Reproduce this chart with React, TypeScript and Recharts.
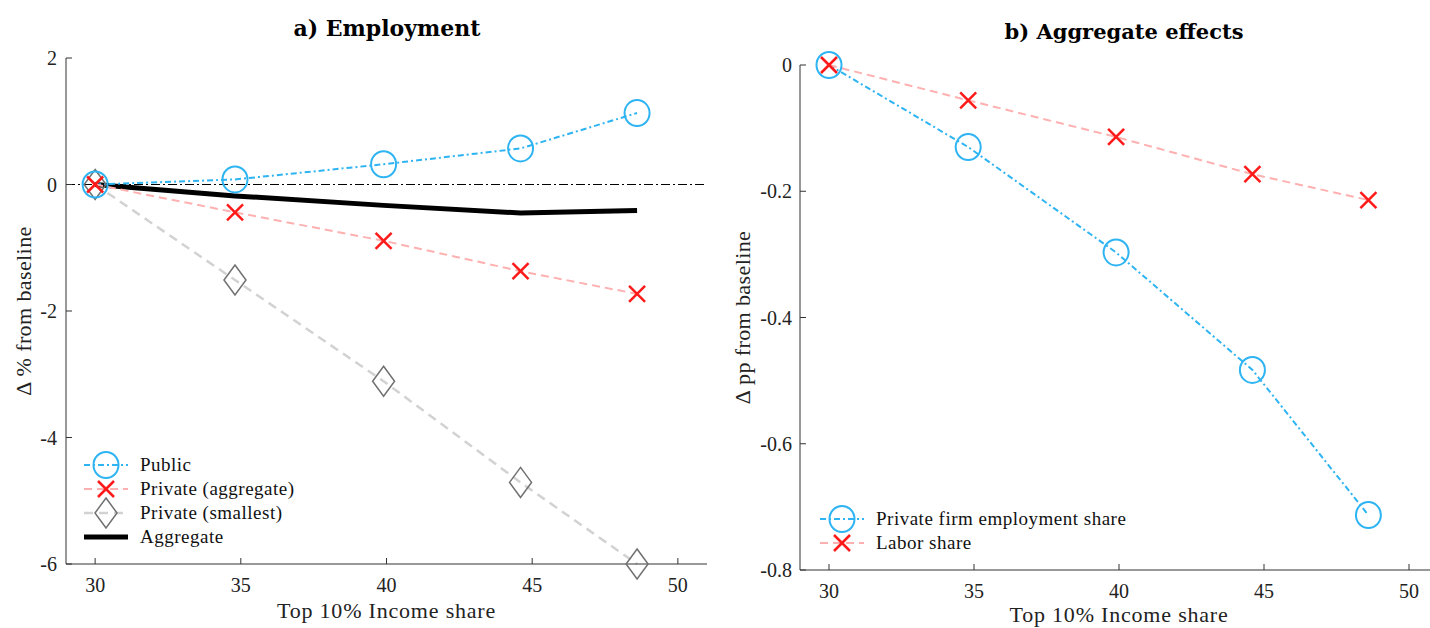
import React from 'react';
import { LineChart, Line, XAxis, YAxis, ReferenceLine, Legend, Label } from 'recharts';

// Top 10% income share (x), shared by both panels
const incomeShare = [30, 34.8, 39.9, 44.6, 48.6];

// Panel a) Employment, % change from baseline
const publicEmp = [0, 0.08, 0.32, 0.57, 1.13];
const privateAggEmp = [0, -0.44, -0.89, -1.37, -1.73];
const privateSmallEmp = [0, -1.51, -3.11, -4.71, -6.0];
const aggregateEmp = [0, -0.18, -0.33, -0.45, -0.41];

// Panel b) Aggregate effects, pp change from baseline
const privateFirmShare = [0, -0.13, -0.297, -0.483, -0.713];
const laborShare = [0, -0.056, -0.114, -0.173, -0.214];

const xTicks = [30, 35, 40, 45, 50];
const yTicksA = [-6, -4, -2, 0, 2];
const yMinorTicksA = [
  -5.8, -5.6, -5.4, -5.2, -5, -4.8, -4.6, -4.4, -4.2, -3.8, -3.6, -3.4, -3.2, -3, -2.8, -2.6, -2.4,
  -2.2, -1.8, -1.6, -1.4, -1.2, -1, -0.8, -0.6, -0.4, -0.2, 0.2, 0.4, 0.6, 0.8, 1, 1.2, 1.4, 1.6, 1.8,
];
const yTicksB = [-0.8, -0.6, -0.4, -0.2, 0];

const SERIF = '"Liberation Serif", "Times New Roman", serif';
const BLUE = '#2eb4f2';
const RED = '#ff1a1a';
const PINK = '#ffb0b0';
const GRAY = '#d2d2d2';
const AXIS = '#333';

const dataA = incomeShare.map((x, i) => ({
  x,
  pub: publicEmp[i],
  priv: privateAggEmp[i],
  small: privateSmallEmp[i],
  agg: aggregateEmp[i],
}));

const dataB = incomeShare.map((x, i) => ({
  x,
  firm: privateFirmShare[i],
  labor: laborShare[i],
}));

type Marker = 'circle' | 'cross' | 'diamond' | 'none';

const drawMarker = (kind: Marker, cx: number, cy: number, key?: string) => {
  if (kind === 'circle') {
    return <ellipse key={key} cx={cx} cy={cy} rx={12.5} ry={13} fill="none" stroke={BLUE} strokeWidth={2} />;
  }
  if (kind === 'cross') {
    const s = 8;
    return (
      <g key={key}>
        <line x1={cx - s} y1={cy - s} x2={cx + s} y2={cy + s} stroke={RED} strokeWidth={2.5} />
        <line x1={cx - s} y1={cy + s} x2={cx + s} y2={cy - s} stroke={RED} strokeWidth={2.5} />
      </g>
    );
  }
  if (kind === 'diamond') {
    return (
      <polygon
        key={key}
        points={`${cx},${cy - 15} ${cx + 11},${cy} ${cx},${cy + 15} ${cx - 11},${cy}`}
        fill="none"
        stroke="#707070"
        strokeWidth={1.5}
      />
    );
  }
  return <g key={key} />;
};

const dotOf = (kind: Marker) => (props: any) =>
  drawMarker(kind, props.cx, props.cy, `${kind}-${props.index}`);

interface LegendItem {
  label: string;
  color: string;
  dash?: string;
  width: number;
  marker: Marker;
}

const legendA: LegendItem[] = [
  { label: 'Public', color: BLUE, dash: '6 3 2 3', width: 2, marker: 'circle' },
  { label: 'Private (aggregate)', color: PINK, dash: '8 5', width: 2, marker: 'cross' },
  { label: 'Private (smallest)', color: GRAY, dash: '9 6', width: 2.5, marker: 'diamond' },
  { label: 'Aggregate', color: '#000', width: 5, marker: 'none' },
];

const legendB: LegendItem[] = [
  { label: 'Private firm employment share', color: BLUE, dash: '6 3 2 3', width: 2, marker: 'circle' },
  { label: 'Labor share', color: PINK, dash: '8 5', width: 2, marker: 'cross' },
];

const LegendBox = ({ items }: { items: LegendItem[] }) => (
  <div style={{ fontFamily: SERIF, fontSize: 19, color: '#111' }}>
    {items.map((it) => (
      <div key={it.label} style={{ display: 'flex', alignItems: 'center', height: 24 }}>
        <svg width={48} height={30} style={{ overflow: 'visible' }}>
          <line x1={2} y1={15} x2={46} y2={15} stroke={it.color} strokeWidth={it.width} strokeDasharray={it.dash} />
          {drawMarker(it.marker, 24, 15)}
        </svg>
        <span style={{ marginLeft: 10, whiteSpace: 'nowrap', letterSpacing: 0.5 }}>{it.label}</span>
      </div>
    ))}
  </div>
);

const tickStyle = { fontFamily: SERIF, fontSize: 20, fill: '#222' };
const axisLabelStyle = { fontFamily: SERIF, fontSize: 22, fill: '#222', letterSpacing: 0.8 };

const titleStyle: React.CSSProperties = {
  position: 'absolute',
  fontFamily: '"DejaVu Serif", serif',
  fontWeight: 'bold',
  fontSize: 22,
  color: '#000',
  whiteSpace: 'nowrap',
  transform: 'translateX(-50%)',
};

export default function App() {
  return (
    <div
      style={{
        position: 'absolute',
        left: 0,
        top: 0,
        width: 1430,
        height: 628,
        overflow: 'hidden',
        background: '#fff',
      }}
    >
      <div style={{ ...titleStyle, left: 387, top: 15 }}>a) Employment</div>
      <div style={{ ...titleStyle, left: 1124, top: 19, fontSize: 21 }}>b) Aggregate effects</div>

      <div style={{ position: 'absolute', left: 0, top: 0 }}>
        <LineChart
          width={720}
          height={628}
          data={dataA}
          margin={{ top: 58, right: 13, bottom: 4, left: 6 }}
          style={{ fontFamily: SERIF }}
        >
          <XAxis
            dataKey="x"
            type="number"
            domain={[29, 51]}
            ticks={xTicks}
            stroke={AXIS}
            tickSize={-6}
            tickMargin={20}
            tick={tickStyle}
            height={60}
          >
            <Label value="Top 10% Income share" position="insideBottom" offset={6} style={axisLabelStyle} />
          </XAxis>
          <YAxis
            yAxisId="minor"
            type="number"
            domain={[-6, 2]}
            ticks={yMinorTicksA}
            axisLine={false}
            tick={false}
            tickLine={{ stroke: '#999' }}
            tickSize={-3}
            width={0}
          />
          <YAxis
            type="number"
            domain={[-6, 2]}
            ticks={yTicksA}
            stroke={AXIS}
            tickSize={-6}
            tickMargin={15}
            tick={tickStyle}
            width={60}
          >
            <Label
              value="Δ % from baseline"
              angle={-90}
              position="insideLeft"
              offset={17}
              style={{ ...axisLabelStyle, letterSpacing: 0.4, textAnchor: 'middle' }}
            />
          </YAxis>
          <ReferenceLine y={0} stroke="#000" strokeWidth={1} strokeDasharray="9 3 2 3" />
          <Line
            dataKey="small"
            stroke={GRAY}
            strokeWidth={2.5}
            strokeDasharray="9 6"
            dot={dotOf('diamond')}
            isAnimationActive={false}
          />
          <Line dataKey="agg" stroke="#000" strokeWidth={5} dot={false} isAnimationActive={false} />
          <Line
            dataKey="pub"
            stroke={BLUE}
            strokeWidth={2}
            strokeDasharray="6 3 2 3"
            dot={dotOf('circle')}
            isAnimationActive={false}
          />
          <Line
            dataKey="priv"
            stroke={PINK}
            strokeWidth={2}
            strokeDasharray="8 5"
            dot={dotOf('cross')}
            isAnimationActive={false}
          />
          <Legend
            layout="vertical"
            align="center"
            verticalAlign="middle"
            content={() => <LegendBox items={legendA} />}
            wrapperStyle={{ left: 82, top: 453, width: 'auto' }}
          />
        </LineChart>
      </div>

      <div style={{ position: 'absolute', left: 730, top: 0 }}>
        <LineChart
          width={708}
          height={628}
          data={dataB}
          margin={{ top: 65, right: 0, bottom: 2, left: 10 }}
          style={{ fontFamily: SERIF }}
        >
          <XAxis
            dataKey="x"
            type="number"
            domain={[29, 51]}
            ticks={xTicks}
            stroke={AXIS}
            tickSize={-6}
            tickMargin={20}
            tick={tickStyle}
            height={56}
          >
            <Label value="Top 10% Income share" position="insideBottom" offset={4} style={axisLabelStyle} />
          </XAxis>
          <YAxis
            type="number"
            domain={[-0.8, 0]}
            ticks={yTicksB}
            stroke={AXIS}
            tickSize={-6}
            tickMargin={14}
            tick={tickStyle}
            width={60}
          >
            <Label
              value="Δ pp from baseline"
              angle={-90}
              position="insideLeft"
              offset={2}
              style={{ ...axisLabelStyle, letterSpacing: 0.4, textAnchor: 'middle' }}
            />
          </YAxis>
          <Line
            dataKey="firm"
            stroke={BLUE}
            strokeWidth={2}
            strokeDasharray="6 3 2 3"
            dot={dotOf('circle')}
            isAnimationActive={false}
          />
          <Line
            dataKey="labor"
            stroke={PINK}
            strokeWidth={2}
            strokeDasharray="8 5"
            dot={dotOf('cross')}
            isAnimationActive={false}
          />
          <Legend
            layout="vertical"
            align="center"
            verticalAlign="middle"
            content={() => <LegendBox items={legendB} />}
            wrapperStyle={{ left: 88, top: 507, width: 'auto' }}
          />
        </LineChart>
      </div>
    </div>
  );
}
